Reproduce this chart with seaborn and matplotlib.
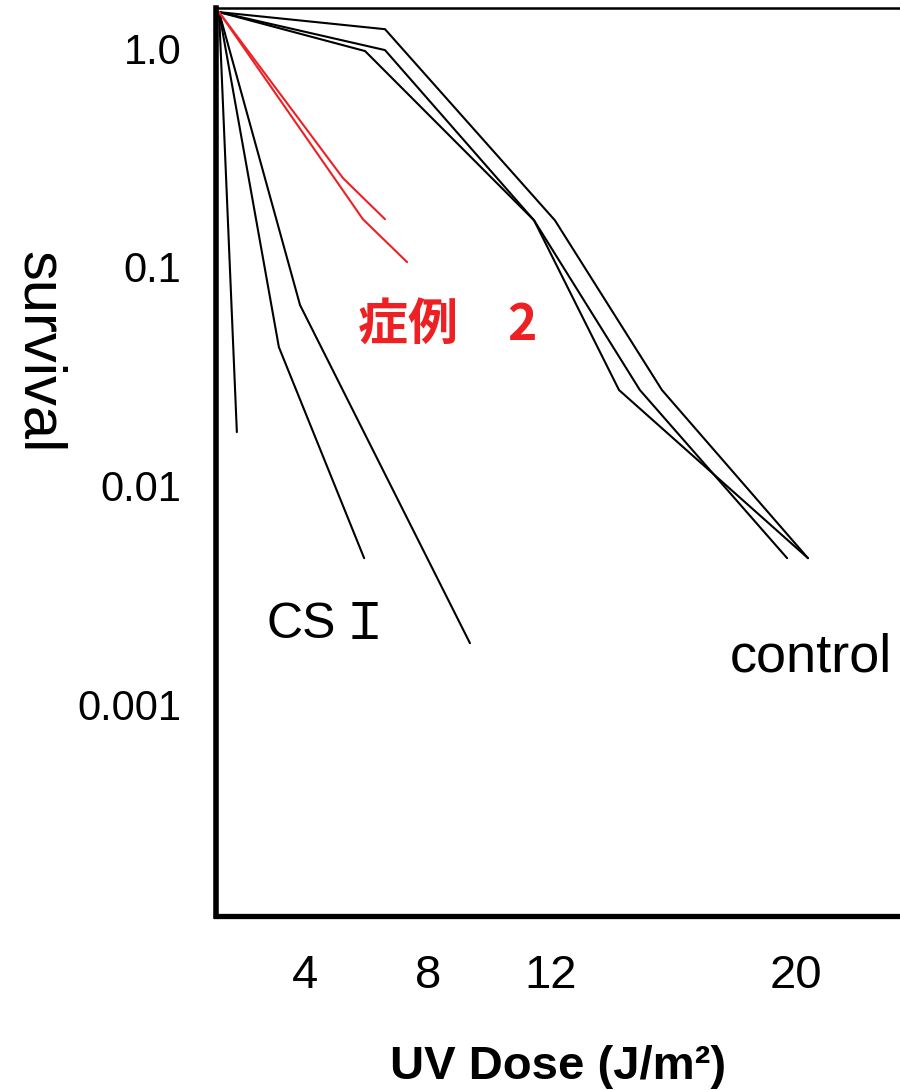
import matplotlib
matplotlib.use("Agg")
import matplotlib.pyplot as plt
import seaborn as sns
import numpy as np

# ---- data (dose in J/m^2, surviving fraction) ----
control_a_dose = [1.2, 6.61, 12.15, 15.64, 20.4]
control_a_surv = [1.46, 1.22, 0.163, 0.0273, 0.00465]
control_b_dose = [1.2, 6.61, 11.47, 14.92, 19.72]
control_b_surv = [1.46, 0.979, 0.163, 0.0273, 0.00465]
control_c_dose = [1.2, 5.96, 11.47, 14.24, 20.4]
control_c_surv = [1.46, 0.969, 0.163, 0.0273, 0.00465]

cs1_a_dose = [1.2, 1.78]
cs1_a_surv = [1.46, 0.01754]
cs1_b_dose = [1.2, 3.15, 5.93]
cs1_b_surv = [1.46, 0.0429, 0.00465]
cs1_c_dose = [1.2, 3.84, 9.38]
cs1_c_surv = [1.46, 0.0668, 0.0019]

case2_a_dose = [1.2, 5.24, 6.61]
case2_a_surv = [1.46, 0.2544, 0.165]
case2_b_dose = [1.2, 5.89, 7.33]
case2_b_surv = [1.46, 0.165, 0.105]

x_ticks = [4, 8, 12, 20]
x_tick_labels = ["4", "8", "12", "20"]
y_ticks = [1.0, 0.1, 0.01, 0.001]
y_tick_labels = ["1.0", "0.1", "0.01", "0.001"]

RED = "#ED2124"

sns.set_theme(style="white")
plt.rcParams['font.family'] = ['Liberation Sans', 'DejaVu Sans']
plt.rcParams['text.color'] = 'black'
plt.rcParams['axes.labelcolor'] = 'black'
plt.rcParams['xtick.color'] = 'black'
plt.rcParams['ytick.color'] = 'black'

fig = plt.figure(figsize=(9, 10.9), dpi=100)
ax = fig.add_axes([0.24, 0.1596, 0.76, 0.833])

black_series = [(control_a_dose, control_a_surv), (control_b_dose, control_b_surv),
                (control_c_dose, control_c_surv), (cs1_a_dose, cs1_a_surv),
                (cs1_b_dose, cs1_b_surv), (cs1_c_dose, cs1_c_surv)]
for d, s in black_series:
    sns.lineplot(x=d, y=s, ax=ax, color="black", lw=1.5, sort=False, estimator=None)
for d, s in [(case2_a_dose, case2_a_surv), (case2_b_dose, case2_b_surv)]:
    sns.lineplot(x=d, y=s, ax=ax, color=RED, lw=1.5, sort=False, estimator=None)

ax.set_yscale("log")
ax.set_xlim(1.1, 23.4)
ax.set_ylim(1.074e-4, 1.524)

ax.set_xticks(x_ticks)
ax.set_xticklabels(x_tick_labels, fontsize=34, color="black")
ax.set_yticks(y_ticks)
ax.set_yticklabels(y_tick_labels, fontsize=30, color="black")
ax.yaxis.set_minor_locator(matplotlib.ticker.NullLocator())
ax.tick_params(axis='x', length=0, pad=27)
ax.tick_params(axis='y', length=0, pad=25)

for side in ["left", "bottom", "top", "right"]:
    ax.spines[side].set_color("black")
ax.spines["left"].set_linewidth(4.0)
ax.spines["bottom"].set_linewidth(3.8)
ax.spines["top"].set_linewidth(1.8)
ax.spines["right"].set_visible(False)
ax.grid(False)

ax.set_xlabel("UV Dose (J/m²)", fontsize=34, fontweight="bold", color="black")
ax.xaxis.set_label_coords(0.5, -0.142)
ax.set_ylabel("survival", fontsize=43, rotation=270, va="center", ha="center", color="black")
ax.yaxis.set_label_coords(-0.259, 0.621)

ax.text(5.73, 0.0535, "症例　2", color=RED, fontsize=36, fontweight="bold",
        family=['Noto Sans CJK JP', 'DejaVu Sans'], ha="left", va="center")
ax.text(2.76, 0.0023, "CS", color="black", fontsize=36,
        family=['Liberation Sans'], ha="left", va="center")
ax.text(5.94, 0.0023, "Ｉ", color="black", fontsize=36,
        family=['Noto Sans CJK JP', 'DejaVu Sans'], ha="center", va="center")
ax.text(17.86, 0.00164, "control", color="black", fontsize=39,
        family=['Liberation Sans'], ha="left", va="center")

fig.savefig("out.png", dpi=100)
